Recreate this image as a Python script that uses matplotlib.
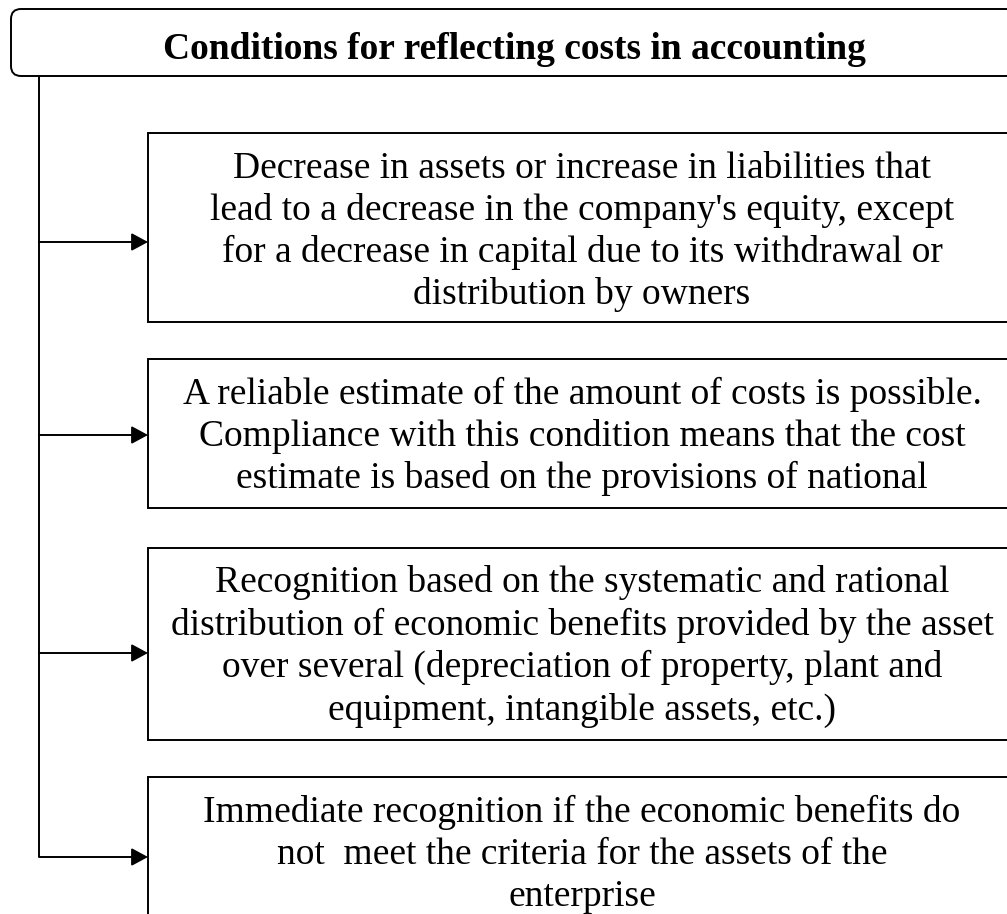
import matplotlib
matplotlib.use("Agg")
import matplotlib.pyplot as plt
from matplotlib.patches import FancyBboxPatch, Rectangle

plt.rcParams['font.family'] = ['Liberation Serif', 'DejaVu Serif']

title = "Conditions for reflecting costs in accounting"

box_lines = [
    ["Decrease in assets or increase in liabilities that",
     "lead to a decrease in the company's equity, except",
     "for a decrease in capital due to its withdrawal or",
     "distribution by owners"],
    ["A reliable estimate of the amount of costs is possible.",
     "Compliance with this condition means that the cost",
     "estimate is based on the provisions of national"],
    ["Recognition based on the systematic and rational",
     "distribution of economic benefits provided by the asset",
     "over several (depreciation of property, plant and",
     "equipment, intangible assets, etc.)"],
    ["Immediate recognition if the economic benefits do",
     "not  meet the criteria for the assets of the",
     "enterprise"],
]

# layout (pixel coordinates)
W, H = 1007, 914
box_top = [133, 359, 548, 777]
box_bot = [322, 508, 740, 960]
arrow_y = [242, 435, 653, 857]
box_left, box_right = 148, 1016
trunk_x = 39
text_cx = 582
lw = 1.4

fig = plt.figure(figsize=(W / 100, H / 100), dpi=100)
ax = fig.add_axes([0, 0, 1, 1])
ax.set_xlim(0, W)
ax.set_ylim(H, 0)
ax.axis('off')

# title box
tb = FancyBboxPatch((11, 9), box_right - 11, 67,
                    boxstyle="round,pad=0,rounding_size=10",
                    fc='white', ec='black', lw=lw)
ax.add_patch(tb)
ax.text(514, 59, title, ha='center', va='baseline', fontsize=27,
        fontweight='bold')

# trunk line
ax.plot([trunk_x, trunk_x], [76, arrow_y[-1]], color='black', lw=lw,
        solid_capstyle='butt')

for top, bot, ay, lines in zip(box_top, box_bot, arrow_y, box_lines):
    ax.add_patch(Rectangle((box_left, top), box_right - box_left, bot - top,
                           fc='white', ec='black', lw=lw))
    ax.annotate("", xy=(box_left, ay), xytext=(trunk_x, ay),
                arrowprops=dict(arrowstyle='-|>,head_length=0.5,head_width=0.27',
                                color='black', lw=lw, shrinkA=0, shrinkB=0,
                                mutation_scale=20))
    for i, ln in enumerate(lines):
        ax.text(text_cx, top + 44.5 + 42.3 * i, ln, ha='center',
                va='baseline', fontsize=27)

fig.savefig("out.png", dpi=100)
